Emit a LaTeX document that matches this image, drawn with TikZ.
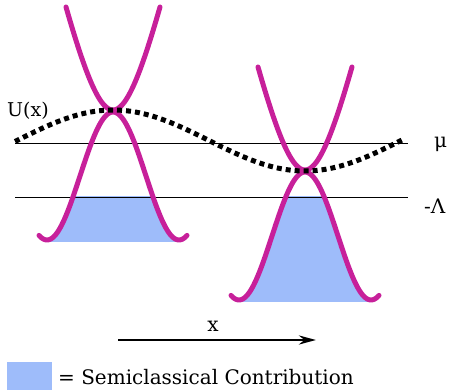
\documentclass[tikz,border=0pt]{standalone}
\usepackage{fontspec}
\setmainfont{DejaVu Serif}
\usetikzlibrary{arrows.meta}
\definecolor{band}{RGB}{199,32,154}
\definecolor{semi}{RGB}{158,188,250}
\tikzset{
  bandline/.style={draw=band, line width=5pt, line cap=round},
  refline/.style={draw=black, line width=0.9pt},
  potential/.style={draw=black, line width=5pt, dash pattern=on 5pt off 4pt},
  lbl/.style={font=\fontsize{19}{22}\selectfont, inner sep=0pt},
  biglbl/.style={font=\fontsize{20}{24}\selectfont, inner sep=0pt}
}
\newcommand{\semifill}{%
  \fill[semi] plot[domain=-66:66, samples=80] (\x, {1+64*(1-cos(2.7273*\x))}) -- (66,131) -- (-66,131) -- cycle;}
\newcommand{\conelines}{%
  \draw[bandline] plot[domain=-47:47, samples=80] (\x, {149-10*sqrt(225+0.1879*\x*\x)});
  \draw[bandline] plot[domain=-74:74, samples=100] (\x, {1+64*(1-cos(2.7273*\x))});}
\begin{document}
\begin{tikzpicture}[x=1pt,y=-1pt]
\useasboundingbox (0,0) rectangle (453,390);
% semiclassical fills below -Lambda
\begin{scope}
  \clip (0,197) rectangle (453,330);
  \begin{scope}[shift={(113,111)}] \semifill \end{scope}
  \begin{scope}[shift={(305,171)}] \semifill \end{scope}
\end{scope}
% reference levels
\coordinate (muL) at (15,143);
\coordinate (muR) at (408,143);
\coordinate (laL) at (15,197);
\coordinate (laR) at (408,197);
\draw[refline] (muL) -- (muR);
\draw[refline] (laL) -- (laR);
% bands
\begin{scope}[shift={(113,111)}] \conelines \end{scope}
\begin{scope}[shift={(305,171)}] \conelines \end{scope}
% potential
\draw[potential] plot[domain=15:405, samples=120] (\x, {140.5-30.5*cos(0.9375*(\x-113))});
% labels
\node[lbl, anchor=west] (U) at (7,111) {U(x)};
\node[biglbl, anchor=west] (mu) at (434,144) {μ};
\node[biglbl, anchor=west] (lam) at (424,206) {-Λ};
% x axis arrow
\coordinate (xa) at (118,340);
\coordinate (xb) at (316,340);
\draw[line width=2.7pt, -{Stealth[length=17pt,width=9pt]}] (xa) -- (xb);
\node[biglbl] (xl) at (213,326) {x};
% legend
\fill[semi] (7,362) rectangle (52,390);
\node[biglbl, anchor=west] (leg) at (58,377) {= Semiclassical Contribution};
\end{tikzpicture}
\end{document}
